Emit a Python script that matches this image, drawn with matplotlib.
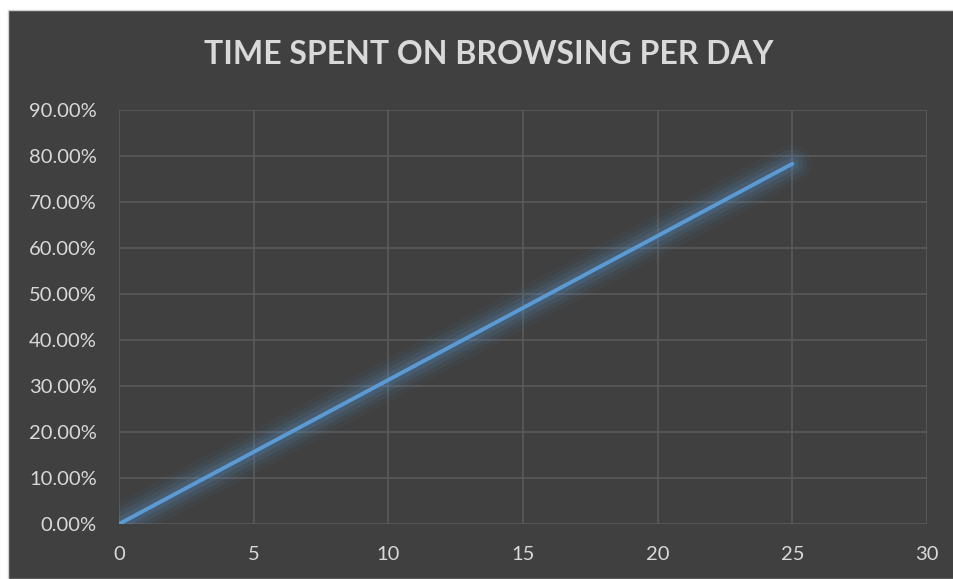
import matplotlib
matplotlib.use("Agg")
import matplotlib.pyplot as plt
from matplotlib.patches import Rectangle
from matplotlib.ticker import FuncFormatter, MultipleLocator

days = [0, 25]
share = [0.0, 0.783]
title = "TIME SPENT ON BROWSING PER DAY"

BG = "#404040"
GRID = "#5a5a5a"
TXT = "#d9d9d9"
LINE = "#5b9bd5"

plt.rcParams['font.family'] = ['Lato', 'DejaVu Sans']

fig = plt.figure(figsize=(9.54, 5.79), dpi=100)
fig.patch.set_facecolor("white")
fig.add_artist(Rectangle((8/954, 0), 1 - 8/954, 1 - 10/579, transform=fig.transFigure,
                         facecolor=BG, edgecolor="#d0d0d0", linewidth=1, zorder=0))

ax = fig.add_axes([119/954, 1 - 524/579, (927-119)/954, (524-110)/579])
ax.set_facecolor(BG)
ax.set_xlim(0, 30)
ax.set_ylim(0, 0.9)
ax.xaxis.set_major_locator(MultipleLocator(5))
ax.yaxis.set_major_locator(MultipleLocator(0.1))
ax.yaxis.set_major_formatter(FuncFormatter(lambda v, p: f"{v*100:.2f}%"))
ax.grid(True, color=GRID, linewidth=1.2)
ax.set_axisbelow(True)
for s in ax.spines.values():
    s.set_visible(False)
ax.tick_params(length=0, colors=TXT, labelsize=14.5)
ax.tick_params(axis='y', pad=16)
ax.tick_params(axis='x', pad=16)

# glow
for w, a in [(28, 0.05), (21, 0.07), (15, 0.10), (9, 0.14)]:
    ax.plot(days, share, color=LINE, linewidth=w, alpha=a, solid_capstyle='round')
ax.plot(days, share, color=LINE, linewidth=2.8, solid_capstyle='round', zorder=5)

fig.text(489/954, 1 - 55/579, title, ha='center', va='center', color=TXT,
         fontsize=23, fontweight='bold')

fig.savefig("out.png", dpi=100, facecolor=fig.get_facecolor())
